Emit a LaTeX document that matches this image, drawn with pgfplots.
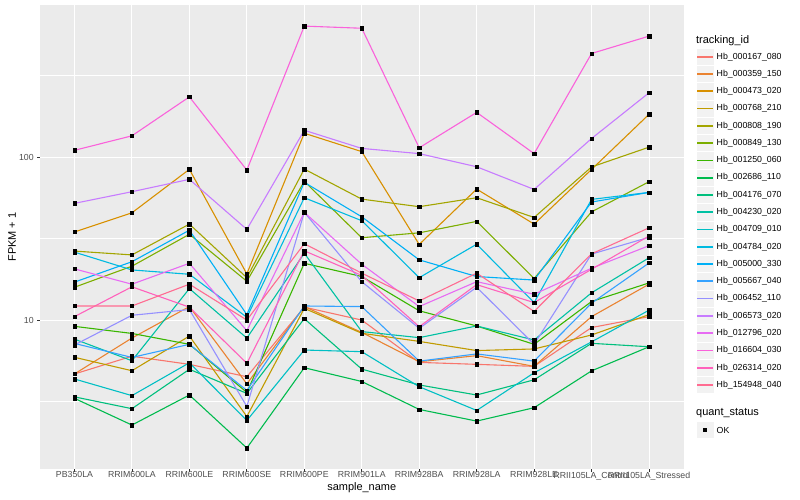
\documentclass[border=0pt]{standalone}
\usepackage{fontspec}
\setmainfont{Liberation Sans}
\usepackage{pgfplots}
\pgfplotsset{compat=1.18}
\usepackage{pgfplotstable}

% ggplot2 hue palette, 20 levels
\definecolor{c1}{HTML}{F8766D}
\definecolor{c2}{HTML}{EA8331}
\definecolor{c3}{HTML}{D89000}
\definecolor{c4}{HTML}{C09B00}
\definecolor{c5}{HTML}{A3A500}
\definecolor{c6}{HTML}{7CAE00}
\definecolor{c7}{HTML}{39B600}
\definecolor{c8}{HTML}{00BB4E}
\definecolor{c9}{HTML}{00BF7D}
\definecolor{c10}{HTML}{00C1A3}
\definecolor{c11}{HTML}{00BFC4}
\definecolor{c12}{HTML}{00BAE0}
\definecolor{c13}{HTML}{00B0F6}
\definecolor{c14}{HTML}{35A2FF}
\definecolor{c15}{HTML}{9590FF}
\definecolor{c16}{HTML}{C77CFF}
\definecolor{c17}{HTML}{E76BF3}
\definecolor{c18}{HTML}{FA62DB}
\definecolor{c19}{HTML}{FF62BC}
\definecolor{c20}{HTML}{FF6C91}
\definecolor{gray92}{HTML}{EBEBEB}
\definecolor{gray95}{HTML}{F2F2F2}
\definecolor{gray30}{HTML}{4D4D4D}
\definecolor{gray20}{HTML}{333333}

% FPKM + 1, one column per tracking_id, one row per sample
\pgfplotstableread{
x  s1   s2    s3   s4   s5   s6   s7   s8   s9   s10  s11  s12  s13  s14  s15  s16  s17  s18  s19  s20
1  4.67 4.67  34.7 5.91 26.5 15.9 9.15 3.31 3.38 7.64 4.35 26.1 17.1 7.19 7.03 52   20.6 110  10.5 12.2
2  6.0  7.76  45.5 4.89 25.1 21.4 8.28 2.27 2.86 5.63 3.44 20.3 22.8 5.9  10.7 61.3 16.6 135  16.0 12.2
3  5.35 12.1  84.1 7.98 38.8 33.6 7.1  3.47 4.99 15.6 5.47 19.1 35.6 7.1  11.6 73.0 22.3 234  12.0 16.6
4  4.49 4.06  19.2 2.56 18.2 17.3 3.6  1.64 3.55 7.75 2.42 10.4 10.8 3.7  2.95 36.0 8.6  83.2 5.43 10.0
5  12.0 12.1  140  11.8 84.4 71   22.3 5.1  10.2 25.7 6.55 56.3 70   12.2 45.8 146  45.8 636  26.6 29.4
6  10.0 8.4   108  8.3  55.2 32.0 18.5 4.2  5.0  8.5  6.4  40.7 43.0 12.1 17.2 113  22.0 617  18.8 19.4
7  5.5  5.55  29.1 7.4  49.6 34.3 11.4 2.83 4.0  7.8  3.9  18.2 23.4 5.6  8.9  105  12.1 114  9.1  13.1
8  5.35 6.05  63.6 6.5  56.3 40.3 9.2  2.4  3.47 9.2  2.79 29.2 18.5 6.2  15.9 87.2 17.2 188  16.5 19.4
9  5.2  5.2   38.8 6.65 42.6 18.0 7.1  2.9  4.3  7.55 4.75 12.8 17.6 5.6  7.1  63.3 14.4 105  12.8 11.3
10 9.0  10.5  84   8.1  87   46.1 13.0 4.88 7.2  14.7 7.35 55   53   12.7 25.4 130  20.8 432  20.5 25.5
11 10.5 16.6  183  10.8 115  70.6 16.9 6.86 6.86 24.1 11.5 60.7 60.7 22.4 32.2 248  28.6 552  32.8 36.8
}\fpkm

\begin{document}
\begin{tikzpicture}
\useasboundingbox (0,0) rectangle (800bp,500bp);
\begin{axis}[
  at={(40bp,31bp)}, anchor=south west,
  scale only axis, width=643.5bp, height=464bp,
  xmin=0.4, xmax=11.6,
  ymode=log, ymin=1.22, ymax=857,
  axis background/.style={fill=gray92},
  axis line style={draw=none},
  xtick={1,...,11},
  xticklabels={PB350LA,RRIM600LA,RRIM600LE,RRIM600SE,RRIM600PE,RRIM901LA,RRIM928BA,RRIM928LA,RRIM928LE,RRII105LA\_Control,RRII105LA\_Stressed},
  ytick={10,100}, yticklabels={10,100},
  minor ytick={3.1623,31.623,316.23},
  xmajorgrids, ymajorgrids, yminorgrids,
  major grid style={white, line width=1.07bp},
  minor grid style={white, line width=0.53bp},
  tick align=outside, major tick length=2.75bp, minor tick length=0pt,
  tick style={gray20, line width=0.8bp},
  xtick pos=bottom, ytick pos=left,
  ticklabel style={font=\fontsize{8.8}{10}\selectfont, text=gray30},
  xticklabel style={yshift=3.5bp},
  xlabel={sample\_name}, ylabel={FPKM + 1},
  label style={font=\fontsize{11}{13}\selectfont},
  xlabel style={at={(axis description cs:0.5,-0.041)}, anchor=center},
  ylabel style={at={(axis description cs:-0.0435,0.5)}, anchor=center},
]
\pgfplotsinvokeforeach{1,...,20}{
  \addplot[color=c#1, line width=1.1bp, no marks] table[x=x, y=s#1] {\fpkm};
}
\pgfplotsinvokeforeach{1,...,20}{
  \addplot[only marks, mark=square*, mark size=1.7bp, black] table[x=x, y=s#1] {\fpkm};
}
\end{axis}

\begin{scope}[x=1bp, y=1bp]
\node[anchor=base west, inner sep=0, font=\fontsize{11}{13}\selectfont] at (696,456) {tracking\_id};
\foreach \name [count=\i] in {000167\_080,000359\_150,000473\_020,000768\_210,000808\_190,000849\_130,001250\_060,002686\_110,004176\_070,004230\_020,004709\_010,004784\_020,005000\_330,005667\_040,006452\_110,006573\_020,012796\_020,016604\_030,026314\_020,154948\_040}{
  \pgfmathsetmacro\yc{500-56.7-17.28*(\i-1)}
  \fill[gray95] (696.5,\yc-8.64) rectangle (713.78,\yc+8.64);
  \draw[white, line width=0.5bp] (696.5,\yc-8.64) rectangle (713.78,\yc+8.64);
  \fill[fill=c\i] (697.3,\yc-0.85) rectangle (713,\yc+0.85);
  \node[anchor=west, inner sep=0, font=\fontsize{8.8}{10}\selectfont] at (716.5,\yc) {Hb\_\name};
}
\node[anchor=base west, inner sep=0, font=\fontsize{11}{13}\selectfont] at (696,85) {quant\_status};
\fill[gray95] (696.5,61.36) rectangle (713.78,78.64);
\draw[white, line width=0.5bp] (696.5,61.36) rectangle (713.78,78.64);
\fill[black] (703.44,68.3) rectangle (706.84,71.7);
\node[anchor=west, inner sep=0, font=\fontsize{8.8}{10}\selectfont] at (716.5,70) {OK};
\end{scope}
\end{tikzpicture}
\end{document}
